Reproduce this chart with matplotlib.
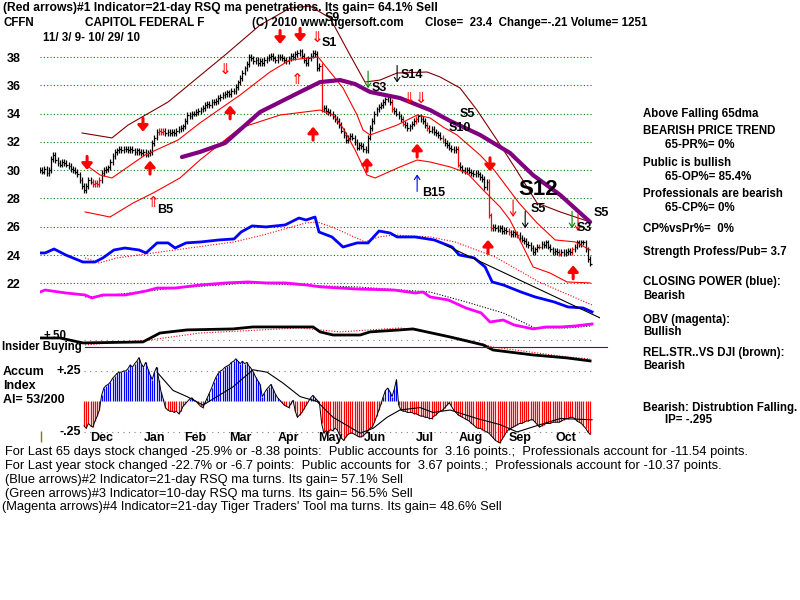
import matplotlib
matplotlib.use("Agg")
import matplotlib.pyplot as plt
from matplotlib import font_manager

# ---------------- data ----------------
# daily closes, 11/3/09 .. 10/29/10 (day index 0..250)
closes = [
    30.0, 29.9, 30.1, 29.8, 30.0, 30.8, 31.1, 30.7, 30.5, 30.4,
    30.6, 30.5, 30.4, 30.3, 30.1, 30.0, 29.9, 29.7, 29.3, 28.9,
    28.6, 28.9, 29.3, 29.2, 29.0, 29.1, 29.0, 29.3, 29.8, 30.0,
    30.1, 30.2, 30.6, 31.0, 31.3, 31.4, 31.5, 31.4, 31.5, 31.5,
    31.4, 31.5, 31.4, 31.3, 31.4, 31.3, 31.2, 31.3, 31.1, 31.2,
    31.3, 31.9, 32.3, 32.7, 32.8, 32.7, 32.8, 32.6, 32.7, 32.6,
    32.7, 32.6, 32.8, 32.9, 33.0, 33.1, 33.5, 33.9, 33.8, 34.0,
    34.0, 34.1, 34.2, 34.3, 34.4, 34.6, 34.7, 34.6, 34.8, 34.8,
    34.9, 35.1, 35.2, 35.3, 35.4, 35.5, 35.4, 35.6, 35.6, 35.9,
    36.2, 36.5, 36.9, 37.2, 37.5, 38.0, 37.9, 37.7, 37.8, 37.6,
    37.7, 37.6, 37.8, 37.9, 38.0, 38.1, 37.9, 37.8, 38.0, 38.0,
    37.9, 37.8, 37.7, 37.9, 38.1, 38.0, 38.2, 38.3, 38.4, 38.1,
    37.8, 37.6, 37.9, 38.1, 38.3, 38.2, 37.2, 37.4,
    34.3, 34.4, 34.2, 34.1, 34.0, 33.8, 33.6, 33.5, 33.2, 32.8,
    32.5, 32.1, 32.3, 32.4, 32.3, 32.0, 31.6, 31.8, 31.7, 31.5,
    31.4, 32.3, 33.0, 33.5, 34.0, 34.3, 34.5, 34.6, 34.8, 35.0,
    35.2, 34.8, 34.3, 34.2, 34.0, 33.8, 33.6, 33.3, 33.2, 33.0,
    33.1, 33.3, 33.5, 33.6, 33.8, 33.6, 33.5, 33.2, 33.0, 32.8,
    32.9, 32.7, 32.6, 32.5, 32.3, 32.1, 31.9, 31.8, 31.6, 31.5,
    31.4, 31.5, 30.4, 30.2, 30.0, 29.9, 30.0, 29.9, 29.8, 29.7,
    29.8, 29.7, 29.5, 29.4, 28.8, 29.2, 26.8, 25.9, 26.0, 25.9,
    25.8, 25.9, 25.7, 25.8, 25.7, 25.6, 25.5, 25.6, 25.5, 25.4,
    25.2, 25.1, 25.0, 24.8, 24.7, 24.5, 24.2, 24.4, 24.6, 24.6,
    24.8, 24.7, 24.9, 24.6, 24.4, 24.2, 24.3, 24.2, 24.1, 24.2,
    24.1, 24.2, 24.3, 24.2, 24.4, 24.6, 24.9, 24.8, 24.9, 24.9,
    24.4, 23.7, 23.4,
]
red_days = [24, 25, 26, 27, 54, 55, 56, 128, 160, 165, 171, 176, 183,
            190, 204, 205, 213, 217, 227, 236, 242]

price_ticks = [22, 24, 26, 28, 30, 32, 34, 36, 38]

# upper band (brown), 21-day ma (red), lower band (red), 65-dma (purple)
brown_d = [19.1, 32.7, 40, 58.2, 84.1, 100, 113.6, 122.7, 131.8, 140.9, 147.7,
           154.5, 162.3, 175.9, 181.8, 190.9, 198.6, 207.7, 215.9, 225.9, 236.4, 250]
brown_v = [32.63, 32.28, 33.19, 34.82, 38.14, 40.26, 41.46, 41.60, 40.76, 38.14, 36.23,
           36.37, 36.87, 36.94, 36.59, 35.81, 34.25, 32.13, 30.16, 27.68, 27.05, 26.34]
mid_d = [19.1, 27.3, 32.7, 47.7, 62.7, 72.7, 90.9, 104.5, 113.6, 126.4, 137.7, 144.1, 146.8,
         150, 162.3, 171.4, 177.3, 183.2, 189.5, 200, 206.4, 217.7, 225.9, 234.1, 243.2, 250]
mid_v = [30.58, 29.66, 29.45, 31.07, 32.13, 33.34, 35.31, 36.94, 37.79, 38.0, 35.81, 33.90, 32.84,
         32.49, 33.19, 33.90, 33.69, 33.05, 32.49, 31.07, 30.01, 27.68, 26.27, 25.07, 24.93, 24.36]
low_d = [20.5, 31.8, 42.3, 51.4, 63.6, 72.7, 90.9, 109.1, 127.3, 133.2, 137.7, 143.2, 148.6,
         152.3, 163.6, 171.4, 177.3, 186.4, 194.1, 201.4, 209.1, 213.6, 224.1, 231.8, 239.5, 250]
low_v = [27.05, 26.69, 27.68, 28.39, 29.45, 30.72, 32.98, 33.90, 34.25, 33.90, 32.98, 31.43, 29.66,
         29.45, 30.23, 30.72, 30.58, 30.23, 29.80, 28.60, 27.40, 26.48, 23.16, 22.73, 22.10, 22.03]
ma65_d = [64.5, 72.7, 84.1, 100, 118.2, 127.3, 136.4, 143.2, 150, 163.6, 177.3, 186.4,
          200, 213.6, 224, 236.4, 250]
ma65_v = [30.93, 31.29, 31.92, 34.11, 35.53, 36.23, 36.37, 36.09, 35.53, 35.10, 34.25, 33.48,
          32.49, 31.22, 29.66, 28.25, 26.34]

# closing power (blue) and its ma, drawn on the price scale
cp_d = [0, 2.3, 6.4, 11.8, 19.5, 25, 28.6, 33.6, 38.6, 45, 48.2, 53.2, 58.2, 61.4, 66.4, 73.2,
        81.4, 88.2, 91.4, 96.4, 102.7, 111.4, 117.7, 120.9, 125, 126.8, 132.7, 137.7, 144.1,
        149.1, 154.1, 159.1, 162.3, 170.5, 179.1, 187.3, 190.5, 197.3, 202.3, 205.5, 210.5,
        218.6, 225, 233.6, 240, 246.8, 250.9]
cp_v = [24.15, 24.15, 24.43, 24.0, 23.51, 23.51, 23.80, 24.36, 24.50, 24.36, 24.15, 24.86, 24.86,
        24.50, 24.86, 24.93, 25.07, 25.14, 25.63, 26.06, 25.99, 26.13, 26.62, 26.48, 26.69, 25.63,
        25.28, 24.57, 24.86, 24.86, 25.70, 25.56, 25.28, 25.28, 25.07, 24.57, 24.01, 23.80, 23.16,
        22.10, 21.89, 21.39, 21.04, 20.69, 20.33, 20.26, 19.98]
cpma_d = [20.5, 26.8, 35, 61.4, 88.2, 101.4, 120.9, 125.9, 132.7, 147.7, 154.1, 160.9, 177.3,
          188.6, 206.8, 226.8, 250.9]
cpma_v = [23.80, 23.44, 23.80, 24.36, 24.93, 25.42, 26.27, 26.34, 25.99, 24.93, 25.28, 25.42,
          25.28, 24.93, 23.87, 22.10, 20.47]
trend_d = [184.1, 254.5]
trend_v = [24.71, 19.56]

# OBV (magenta) and its ma
obv_d = [0, 2.3, 11.8, 20.5, 23.6, 28.6, 38.6, 48.2, 53.2, 61.4, 73.2, 84.5, 94.5, 102.7, 111.4,
         120.9, 127.7, 144.1, 160.9, 170.5, 174.1, 177.3, 185.5, 193.6, 200.5, 204.5, 210.5,
         215.5, 224.1, 230, 236.8, 243.2, 250.9]
obv_v = [21.39, 21.53, 21.32, 21.18, 20.97, 21.18, 21.18, 21.46, 21.67, 21.67, 21.89, 22.03, 22.10,
         22.03, 22.03, 21.89, 21.75, 21.60, 21.53, 21.32, 21.39, 21.04, 20.83, 20.26, 19.91, 19.27,
         19.41, 19.06, 18.78, 18.92, 18.92, 18.99, 19.13]
obvma_d = [20.5, 28.6, 61.4, 94.5, 127.7, 144.1, 177.3, 193.6, 210.5, 225, 240, 250.9]
obvma_v = [21.04, 21.11, 21.67, 22.03, 21.82, 21.75, 21.39, 20.69, 19.91, 18.85, 18.85, 19.0]

# relative strength vs DJI and its ma
rs_d = [0, 9.1, 19.5, 46.8, 54.5, 66.8, 87.7, 96.8, 124.1, 127.3, 133.2, 145.5, 150, 163.6,
        169.5, 186.4, 201.4, 205.9, 224.1, 239.5, 250]
rs_v = [18.14, 18.14, 17.79, 17.86, 18.49, 18.71, 18.78, 18.92, 18.92, 18.57, 18.35, 18.35,
        18.57, 18.71, 18.78, 18.21, 17.65, 17.29, 16.94, 16.73, 16.52]
rsma_d = [20.5, 50, 72.7, 118.2, 136.4, 163.6, 178.6, 194.1, 205.9, 239.5, 250]
rsma_v = [17.65, 18.0, 18.49, 18.85, 18.57, 18.85, 18.49, 18.0, 17.5, 16.80, 16.66]
rs_level = 18.0       # "+.50" level
insider_level = 17.5

# accumulation index, daily from day 20
ai_start = 20
ai = [
    -0.20, -0.22, -0.18, -0.20, -0.21, -0.16, -0.12, -0.07, 0.05, 0.11,
    0.13, 0.14, 0.16, 0.19, 0.21, 0.23, 0.24, 0.24, 0.25, 0.25,
    0.27, 0.30, 0.28, 0.31, 0.33, 0.36, 0.31, 0.28, 0.32, 0.27,
    0.22, 0.18, 0.24, 0.28, 0.18, 0.08, 0.02, -0.05, -0.07, -0.08,
    -0.08, -0.09, -0.08, -0.10, -0.08, -0.04, -0.02, 0.00, 0.02, 0.03,
    0.01, 0.00, -0.02, -0.04, -0.05, -0.01, 0.03, 0.07, 0.11, 0.16,
    0.20, 0.23, 0.25, 0.26, 0.28, 0.29, 0.30, 0.32, 0.33, 0.35,
    0.33, 0.31, 0.33, 0.31, 0.32, 0.29, 0.27, 0.24, 0.20, 0.17,
    0.14, 0.04, 0.07, 0.10, 0.12, 0.14, 0.10, 0.06, 0.03, 0.01,
    -0.01, -0.03, -0.04, -0.05, -0.02, 0.01, -0.08, -0.13, -0.11, -0.09,
    -0.06, -0.03, 0.00, 0.03, 0.05, 0.03, 0.01, -0.01, -0.18, -0.26,
    -0.24, -0.25, -0.23, -0.24, -0.22, -0.23, -0.27, -0.30, -0.32, -0.29,
    -0.27, -0.26, -0.26, -0.27, -0.28, -0.29, -0.29, -0.28, -0.26, -0.24,
    -0.22, -0.21, -0.17, -0.12, -0.07, -0.02, 0.04, 0.09, 0.11, 0.08,
    0.04, 0.10, 0.18, -0.03, -0.07, -0.08, -0.08, -0.09, -0.09, -0.09,
    -0.10, -0.10, -0.11, -0.12, -0.12, -0.13, -0.13, -0.14, -0.14, -0.12,
    -0.11, -0.09, -0.08, -0.07, -0.05, -0.03, -0.01, -0.04, -0.07, -0.09,
    -0.11, -0.12, -0.13, -0.14, -0.15, -0.16, -0.18, -0.19, -0.21, -0.22,
    -0.22, -0.23, -0.24, -0.25, -0.26, -0.28, -0.30, -0.32, -0.33, -0.34,
    -0.31, -0.28, -0.25, -0.23, -0.22, -0.21, -0.20, -0.19, -0.18, -0.18,
    -0.17, -0.16, -0.16, -0.15, -0.15, -0.17, -0.19, -0.21, -0.20, -0.19,
    -0.18, -0.18, -0.18, -0.17, -0.17, -0.17, -0.17, -0.16, -0.15, -0.14,
    -0.14, -0.13, -0.13, -0.14, -0.16, -0.17, -0.18, -0.20, -0.22, -0.25,
    -0.27,
]
aima_d = [53.2, 60.5, 66.8, 74.1, 87.7, 96.8, 103.2, 110.5, 118.2, 125.9, 133.2, 145.5, 151.4,
          157.7, 163.6, 172.7, 178.6, 186.4, 198.6, 209.1, 216.8, 227.3, 236.4, 250.9]
aima_v = [0.24, 0.09, 0.04, -0.03, 0.12, 0.26, 0.24, 0.15, 0.04, 0.00, -0.13, -0.26, -0.22,
          -0.13, -0.07, -0.05, -0.09, -0.07, -0.14, -0.19, -0.25, -0.19, -0.14, -0.15]

months = ["Dec", "Jan", "Feb", "Mar", "Apr", "May", "Jun", "Jul", "Aug", "Sep", "Oct"]
month_pos = [28, 52, 70.5, 91, 113, 132, 152, 175, 196, 218, 239]

# signals: (day, price)
down_red = [(21.4, 30.5), (46.8, 33.2), (109.1, 39.4), (118.2, 39.55), (204.5, 30.4)]
up_red = [(50, 30.2), (86.4, 34.1), (124.1, 32.6), (148.6, 30.4), (171.4, 31.4),
          (203.6, 24.6), (242.3, 22.8)]
down_hollow = [(84.1, 37.1, "\u21d3"), (125.9, 39.4, "\u21d3"), (170.5, 35.1, "\u21d3\u21d3")]
up_hollow = [(51.4, 27.7), (116.8, 36.4)]
thin_arrows = [(215, 27.3, "down", "#ff0000"), (244.5, 26.3, "down", "#ff0000"),
               (149.1, 36.4, "down", "#008000"), (241.8, 26.5, "down", "#008000"),
               (171.4, 29.1, "up", "#0000ff"), (162.3, 36.8, "down", "black"),
               (220.5, 26.5, "down", "black")]
sig_labels = [("B5", 53.2, 27.2), ("S1", 128.2, 39.0), ("S9", 129.5, 40.75), ("S3", 150.9, 35.8),
              ("S14", 164.0, 36.75), ("S5", 190.5, 34.0), ("S10", 185.5, 32.95),
              ("B15", 173.6, 28.4), ("S5", 223.2, 27.26), ("S3", 244.0, 25.9), ("S5", 251.4, 26.98)]

# ---------------- drawing ----------------
names = {f.name for f in font_manager.fontManager.ttflist}
BOLD = "Liberation Sans" if "Liberation Sans" in names else "DejaVu Sans"
NARROW = "Liberation Sans Narrow" if "Liberation Sans Narrow" in names else BOLD

RED = "#ff0000"
fig = plt.figure(figsize=(8, 6), dpi=100)
fig.patch.set_facecolor("white")


def fx(x):
    return x / 800


def fy(y):
    return 1 - y / 600


ax = fig.add_axes([fx(40), fy(365), 560 / 800, 365 / 600])
ax.set_xlim(0, 254.5)
ax.set_ylim(16.23, 42.03)
ax.patch.set_alpha(0)
for s in ax.spines.values():
    s.set_visible(False)
ax.set_xticks([])
ax.set_yticks(price_ticks)
ax.set_yticklabels([str(t) for t in price_ticks], fontfamily=BOLD, fontweight="bold", fontsize=9)
ax.tick_params(axis="y", length=0, pad=14)

ax.hlines(price_ticks, 0, 251, colors="#008000", linestyles=(0, (1, 2)), lw=0.8)

# price bars
days = list(range(len(closes)))
prev = [closes[0]] + closes[:-1]
hi = [max(a, b) + 0.2 for a, b in zip(prev, closes)]
lo = [min(a, b) - 0.2 for a, b in zip(prev, closes)]
bar_col = [RED if d in red_days else "black" for d in days]
ax.vlines(days, lo, hi, colors=bar_col, lw=0.9)
ax.hlines(closes, days, [d + 0.8 for d in days], colors=bar_col, lw=0.9)

ax.plot(brown_d, brown_v, color="#800000", lw=0.8)
ax.plot(mid_d, mid_v, color=RED, lw=0.8)
ax.plot(low_d, low_v, color=RED, lw=0.8)
ax.plot(ma65_d, ma65_v, color="#800080", lw=3, solid_capstyle="round")

ax.plot(cpma_d, cpma_v, color=RED, lw=0.8, ls=(0, (1, 1.5)))
ax.plot(cp_d, cp_v, color="#0000ff", lw=2)
ax.plot(trend_d, trend_v, color="black", lw=0.8)
ax.plot(obvma_d, obvma_v, color="black", lw=0.8, ls=(0, (1, 1.5)))
ax.plot(obv_d, obv_v, color="#ff00ff", lw=2)
ax.hlines(rs_level, 20, 251, colors="gray", linestyles=(0, (1, 4)), lw=0.8)
ax.plot(rsma_d, rsma_v, color=RED, lw=0.8, ls=(0, (1, 1.5)))
ax.plot(rs_d, rs_v, color="black", lw=2)
ax.plot([20.5, 257.7], [insider_level, insider_level], color="#800040", lw=0.8, clip_on=False)


def arrow(d, v, up, color, length, lw, style):
    tail, tip = (v - length / 2, v + length / 2) if up else (v + length / 2, v - length / 2)
    ax.annotate("", xy=(d, tip), xytext=(d, tail),
                arrowprops=dict(arrowstyle=style, color=color, lw=lw, shrinkA=0, shrinkB=0))


for d, v in down_red:
    arrow(d, v, False, RED, 0.95, 2.2, "-|>,head_length=0.35,head_width=0.3")
for d, v in up_red:
    arrow(d, v, True, RED, 0.95, 2.2, "-|>,head_length=0.35,head_width=0.3")
for d, v, g in down_hollow:
    ax.text(d, v, g, color=RED, fontsize=11, ha="center", va="center", family=["DejaVu Sans"])
for d, v in up_hollow:
    ax.text(d, v, "\u21d1", color=RED, fontsize=11, ha="center", va="center", family=["DejaVu Sans"])
for d, v, way, c in thin_arrows:
    arrow(d, v, way == "up", c, 1.2, 0.8, "->,head_length=0.3,head_width=0.2")
for t, d, v in sig_labels:
    ax.text(d, v, t, fontfamily=BOLD, fontweight="bold", fontsize=9, ha="left", va="center")
ax.text(217.3, 28.6, "S12", fontfamily=BOLD, fontweight="bold", fontsize=16, ha="left", va="center")

# accumulation index panel
ax2 = fig.add_axes([fx(40), fy(445), 560 / 800, 95 / 600])
ax2.set_xlim(0, 254.5)
ax2.set_ylim(-0.357, 0.422)
ax2.axis("off")
ai_days = [ai_start + k for k in range(len(ai))]
ai_col = ["#0000ff" if v > 0 else RED for v in ai]
ax2.hlines([0.25, -0.25], 20, 251, colors="gray", linestyles=(0, (1, 4)), lw=0.8)
ax2.vlines(ai_days, 0, ai, colors=ai_col, lw=0.9)
ax2.plot(ai_days, ai, color="black", lw=0.7)
ax2.plot(aima_d, aima_v, color="black", lw=0.8)
ax2.vlines(0.3, -0.24, -0.33, colors="#808000", lw=1)
for m, p in zip(months, month_pos):
    ax2.text(p, -0.30, m, fontfamily=BOLD, fontweight="bold", fontsize=9, ha="center", va="center")
ax2.text(18.5, 0.25, "+.25", fontfamily=BOLD, fontweight="bold", fontsize=9, ha="right", va="center")
ax2.text(18.5, -0.25, "-.25", fontfamily=BOLD, fontweight="bold", fontsize=9, ha="right", va="center")

# ---------------- text ----------------
def t(x, y, s, size=8.3, fam=BOLD, weight="bold"):
    fig.text(fx(x), fy(y), s, fontfamily=fam, fontweight=weight, fontsize=size, ha="left", va="center")


t(3, 8, "(Red arrows)#1 Indicator=21-day RSQ ma penetrations. Its gain= 64.1% Sell", size=8.7)
t(3, 23, "CFFN")
t(85, 23, "CAPITOL FEDERAL F", size=8.5)
t(252, 23, "(C) 2010 www.tigersoft.com")
t(425, 23, "Close=  23.4  Change=-.21 Volume= 1251")
t(43, 38, "11/ 3/ 9- 10/ 29/ 10")

right = [(643, 114, "Above Falling 65dma"), (643, 131, "BEARISH PRICE TREND"),
         (665, 145, "65-PR%= 0%"), (643, 163, "Public is bullish"), (665, 177, "65-OP%= 85.4%"),
         (643, 194, "Professionals are bearish"), (665, 208, "65-CP%= 0%"),
         (643, 229, "CP%vsPr%=  0%"), (643, 252, "Strength Profess/Pub= 3.7"),
         (643, 282, "CLOSING POWER (blue):"), (643, 296, "Bearish"), (643, 320, "OBV (magenta):"),
         (643, 332, "Bullish"), (643, 353, "REL.STR..VS DJI (brown):"), (643, 366, "Bearish"),
         (643, 408, "Bearish: Distrubtion Falling."), (665, 420, "IP= -.295")]
for x, y, s in right:
    t(x, y, s)

t(2, 347, "Insider Buying")
t(43, 336, "+.50")
t(3, 372, "Accum", size=9)
t(3, 386, "Index", size=9)
t(3, 400, "AI= 53/200", size=9)

bottom = [(5, 452, "For Last 65 days stock changed -25.9% or -8.38 points:  Public accounts for  3.16 points.;  Professionals account for -11.54 points."),
          (5, 466, "For Last year stock changed -22.7% or -6.7 points:  Public accounts for  3.67 points.;  Professionals account for -10.37 points."),
          (5, 480, "(Blue arrows)#2 Indicator=21-day RSQ ma turns. Its gain= 57.1% Sell"),
          (5, 494, "(Green arrows)#3 Indicator=10-day RSQ ma turns. Its gain= 56.5% Sell"),
          (2, 507, "(Magenta arrows)#4 Indicator=21-day Tiger Traders' Tool ma turns. Its gain= 48.6% Sell")]
for x, y, s in bottom:
    t(x, y, s, size=9.3, fam=NARROW, weight="normal")

fig.savefig("out.png", dpi=100, facecolor="white")
